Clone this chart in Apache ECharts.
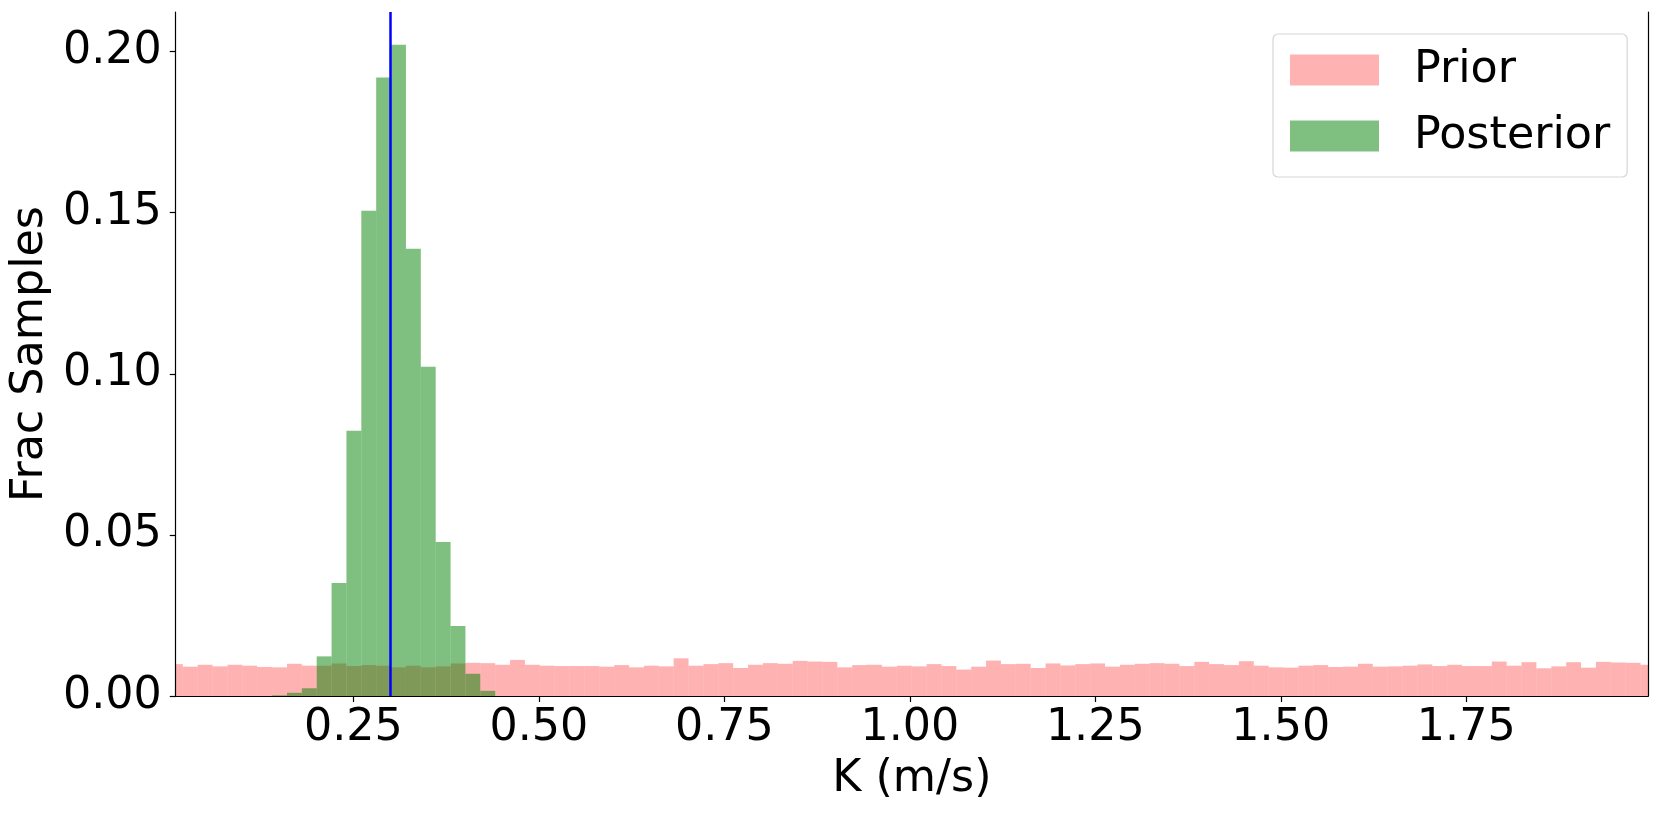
<!DOCTYPE html>
<html>
<head>
<meta charset="utf-8">
<title>K posterior</title>
<script src="https://cdn.jsdelivr.net/npm/echarts@6/dist/echarts.min.js"></script>
<style>
  html, body { margin: 0; padding: 0; background: #fff; }
  #chart { width: 1661px; height: 814px; }
</style>
</head>
<body>
<div id="chart"></div>
<script>
// histogram bins: 100 bins, left edge of bin i = binStart + i * binWidth
const binStart = 0.0
const binWidth = 0.02005

// fraction of prior samples per bin
const priorFrac = [
  0.0099, 0.0091, 0.0097, 0.0092, 0.0097, 0.0094, 0.0090, 0.0089, 0.0100, 0.0094,
  0.0094, 0.0101, 0.0093, 0.0096, 0.0094, 0.0089, 0.0094, 0.0089, 0.0092, 0.0101,
  0.0103, 0.0102, 0.0097, 0.0112, 0.0097, 0.0094, 0.0093, 0.0093, 0.0093, 0.0091,
  0.0096, 0.0089, 0.0094, 0.0092, 0.0117, 0.0094, 0.0099, 0.0102, 0.0087, 0.0097,
  0.0102, 0.0100, 0.0109, 0.0107, 0.0106, 0.0089, 0.0096, 0.0097, 0.0091, 0.0094,
  0.0092, 0.0099, 0.0093, 0.0082, 0.0091, 0.0110, 0.0099, 0.0100, 0.0087, 0.0101,
  0.0095, 0.0099, 0.0101, 0.0091, 0.0097, 0.0100, 0.0102, 0.0100, 0.0093, 0.0106,
  0.0099, 0.0096, 0.0108, 0.0094, 0.0089, 0.0088, 0.0094, 0.0096, 0.0090, 0.0091,
  0.0100, 0.0091, 0.0092, 0.0094, 0.0098, 0.0093, 0.0097, 0.0093, 0.0093, 0.0107,
  0.0094, 0.0105, 0.0086, 0.0092, 0.0105, 0.0088, 0.0106, 0.0104, 0.0103, 0.0097
]

// fraction of posterior samples, non-empty bins only, starting at bin 7
const posteriorFirstBin = 7
const posteriorFrac = [
  0.0002, 0.0010, 0.0024, 0.0123, 0.0351, 0.0823, 0.1506, 0.1920,
  0.2021, 0.1388, 0.1022, 0.0478, 0.0217, 0.0069, 0.0016
]

const trueK = 0.3031

const xTicks = [0.25, 0.50, 0.75, 1.00, 1.25, 1.50, 1.75]
const yTicks = [0.00, 0.05, 0.10, 0.15, 0.20]

const FONT = 'DejaVu Sans'
const FS = 44.4

function toBins(values, first) {
  return values.map((v, i) => {
    const lo = binStart + (first + i) * binWidth
    return [lo, lo + binWidth, v]
  })
}

function histItem(params, api) {
  const p0 = api.coord([api.value(0), api.value(2)])
  const p1 = api.coord([api.value(1), 0])
  return {
    type: 'rect',
    shape: { x: p0[0], y: p0[1], width: p1[0] - p0[0], height: p1[1] - p0[1] },
    style: api.style()
  }
}

const chart = echarts.init(document.getElementById('chart'), null, { renderer: 'canvas' })

const axisLine = { show: true, lineStyle: { color: '#000', width: 1.2 } }

chart.setOption({
  animation: false,
  backgroundColor: '#fff',
  textStyle: { fontFamily: FONT, color: '#000' },
  grid: { left: 173, top: 12, width: 1475, height: 684 },
  legend: {
    orient: 'vertical',
    left: 1273,
    top: 34,
    padding: [14, 17, 19, 17],
    itemWidth: 89,
    itemHeight: 31,
    itemGap: 22,
    backgroundColor: '#fff',
    borderColor: '#d6d6d6',
    borderWidth: 1.2,
    borderRadius: 5,
    textStyle: { fontFamily: FONT, fontSize: FS, color: '#000', padding: [0, 0, 0, 30] },
    data: [
      { name: 'Prior', icon: 'rect', itemStyle: { color: 'rgba(255,0,0,0.3)' } },
      { name: 'Posterior', icon: 'rect', itemStyle: { color: 'rgba(0,128,0,0.5)' } }
    ]
  },
  xAxis: [{
    type: 'value',
    min: 0.0105,
    max: 1.995,
    z: 10,
    name: 'K (m/s)',
    nameLocation: 'middle',
    nameGap: 61,
    nameTextStyle: { fontFamily: FONT, fontSize: FS, color: '#000' },
    axisLine: axisLine,
    axisTick: { show: true, length: 6, lineStyle: { color: '#000', width: 1.2 }, customValues: xTicks },
    axisLabel: {
      fontFamily: FONT, fontSize: FS, color: '#000', margin: 10,
      customValues: xTicks,
      formatter: (v) => v.toFixed(2)
    },
    splitLine: { show: false }
  }, {
    type: 'value',
    position: 'top',
    min: 0.0105,
    max: 1.995,
    z: 10,
    axisLine: axisLine,
    axisTick: { show: false },
    axisLabel: { show: false },
    splitLine: { show: false }
  }],
  yAxis: [{
    type: 'value',
    min: 0,
    max: 0.2123,
    z: 10,
    name: 'Frac Samples',
    nameLocation: 'middle',
    nameGap: 117,
    nameTextStyle: { fontFamily: FONT, fontSize: FS, color: '#000' },
    axisLine: axisLine,
    axisTick: { show: true, length: 6, lineStyle: { color: '#000', width: 1.2 }, customValues: yTicks },
    axisLabel: {
      fontFamily: FONT, fontSize: FS, color: '#000', margin: 14,
      customValues: yTicks,
      formatter: (v) => v.toFixed(2)
    },
    splitLine: { show: false }
  }, {
    type: 'value',
    position: 'right',
    min: 0,
    max: 0.2123,
    z: 10,
    axisLine: axisLine,
    axisTick: { show: false },
    axisLabel: { show: false },
    splitLine: { show: false }
  }],
  series: [
    {
      name: 'Prior',
      type: 'custom',
      renderItem: histItem,
      clip: true,
      z: 2,
      encode: { x: [0, 1], y: 2 },
      itemStyle: { color: 'rgba(255,0,0,0.3)' },
      data: toBins(priorFrac, 0)
    },
    {
      name: 'Posterior',
      type: 'custom',
      renderItem: histItem,
      clip: true,
      z: 3,
      encode: { x: [0, 1], y: 2 },
      itemStyle: { color: 'rgba(0,128,0,0.5)' },
      data: toBins(posteriorFrac, posteriorFirstBin),
      markLine: {
        silent: true,
        symbol: 'none',
        label: { show: false },
        lineStyle: { color: '#0000ff', width: 2.5, type: 'solid' },
        data: [{ xAxis: trueK }]
      }
    }
  ]
})
</script>
</body>
</html>
